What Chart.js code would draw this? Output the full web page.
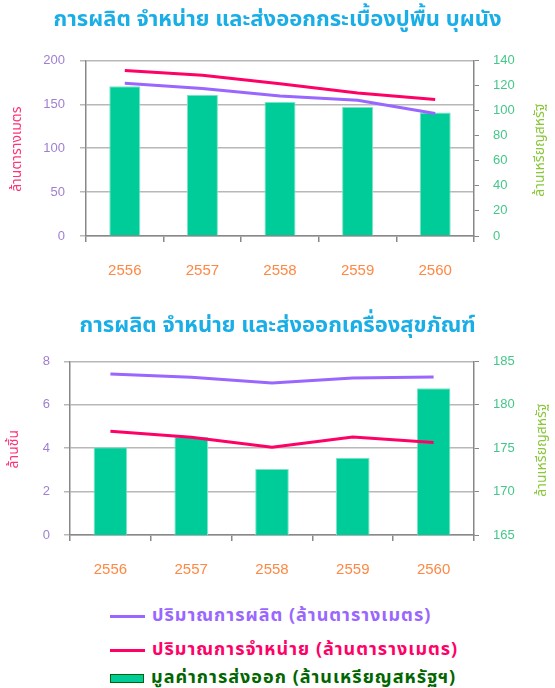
<!DOCTYPE html>
<html>
<head>
<meta charset="utf-8">
<script src="https://cdn.jsdelivr.net/npm/chart.js@4.4.1/dist/chart.umd.min.js"></script>
<style>
  body { margin: 0; width: 555px; height: 688px; background: #fff; overflow: hidden; position: relative;
         font-family: "Noto Sans Thai", Tahoma, "Noto Sans", sans-serif; }
  #box1 { position: absolute; left: 0; top: 0; }
  #box2 { position: absolute; left: 0; top: 290px; }
  .legend { position: absolute; left: 110px; font-weight: bold; font-size: 18px; line-height: 20px; letter-spacing: 1px; white-space: nowrap; }
  .legend .sw { display: inline-block; vertical-align: middle; margin-right: 7px; }
  .legend .ln { width: 35px; height: 3px; }
  .legend .bx { width: 32px; height: 7px; background: #00cc99; border: 1px solid #006600; }
</style>
</head>
<body>
<canvas id="tileChart" width="555" height="290"></canvas>
<canvas id="sanChart" width="555" height="300"></canvas>
<div class="legend" style="top:606px;color:#9966ff"><span class="sw ln" style="background:#9966ff"></span>ปริมาณการผลิต (ล้านตารางเมตร)</div>
<div class="legend" style="top:640px;color:#ff0066"><span class="sw ln" style="background:#ff0066"></span>ปริมาณการจำหน่าย (ล้านตารางเมตร)</div>
<div class="legend" style="top:668px;color:#006600"><span class="sw bx"></span>มูลค่าการส่งออก (ล้านเหรียญสหรัฐฯ)</div>
<script>
// ข้อมูล
const years = ['2556', '2557', '2558', '2559', '2560'];

// กระเบื้องปูพื้น บุผนัง
const tileProduction = [174, 168, 159.5, 154.5, 139.5]; // ล้านตารางเมตร
const tileSales = [188.5, 183, 173.5, 163, 155.5];      // ล้านตารางเมตร
const tileExport = [119.3, 112.7, 106.8, 102.9, 98.4];   // ล้านเหรียญสหรัฐ
const tileLeftTicks = [0, 50, 100, 150, 200];
const tileRightTicks = [0, 20, 40, 60, 80, 100, 120, 140];

// เครื่องสุขภัณฑ์
const sanProduction = [7.42, 7.27, 7.0, 7.23, 7.28]; // ล้านชิ้น
const sanSales = [4.78, 4.5, 4.05, 4.52, 4.26];      // ล้านชิ้น
const sanExport = [175.1, 176.3, 172.6, 173.9, 181.9]; // ล้านเหรียญสหรัฐ
const sanLeftTicks = [0, 2, 4, 6, 8];
const sanRightTicks = [165, 170, 175, 180, 185];

const thaiFont = '"Noto Sans Thai", Tahoma, "Noto Sans", sans-serif';
Chart.defaults.font.family = '"Liberation Sans", Arial, sans-serif';

// axis titles read bottom-to-top on both sides
const axisTitles = {
    id: 'axisTitles',
    afterDraw(chart, args, opts) {
        const ctx = chart.ctx;
        const area = chart.chartArea;
        opts.items.forEach(t => {
            ctx.save();
            ctx.translate(t.x, (area.top + area.bottom) / 2 + t.dy);
            ctx.rotate(-Math.PI / 2);
            ctx.font = '14px ' + thaiFont;
            ctx.fillStyle = t.color;
            ctx.textAlign = 'center';
            ctx.textBaseline = 'middle';
            ctx.fillText(t.text, 0, 0);
            ctx.restore();
        });
    }
};

function makeChart(id, cfg) {
    const step = cfg.leftTicks[1] - cfg.leftTicks[0];
    const rstep = cfg.rightTicks[1] - cfg.rightTicks[0];
    return new Chart(document.getElementById(id), {
        data: {
            labels: years,
            datasets: [
                { type: 'line', label: 'ปริมาณการผลิต', data: cfg.production, yAxisID: 'y',
                  borderColor: '#9966ff', borderWidth: 3, pointRadius: 0, tension: 0, order: 1 },
                { type: 'line', label: 'ปริมาณการจำหน่าย', data: cfg.sales, yAxisID: 'y',
                  borderColor: '#ff0066', borderWidth: 3, pointRadius: 0, tension: 0, order: 2 },
                { type: 'bar', label: 'มูลค่าการส่งออก', data: cfg.exportValue, yAxisID: 'y1',
                  backgroundColor: '#00cc99', borderColor: '#7fe3c7', borderWidth: 1,
                  barPercentage: 0.8, categoryPercentage: cfg.barPct, order: 3 }
            ]
        },
        options: {
            responsive: false,
            animation: false,
            layout: { padding: 0 },
            plugins: {
                legend: { display: false },
                tooltip: { enabled: false },
                title: {
                    display: true,
                    text: cfg.title,
                    color: '#1aaee6',
                    font: { family: thaiFont, size: 22, weight: 'bold' },
                    padding: cfg.titlePad
                },
                axisTitles: { items: cfg.axisTitles }
            },
            scales: {
                x: {
                    offset: true,
                    grid: { offset: true, drawOnChartArea: false, tickLength: 6, color: '#888', lineWidth: 1.5 },
                    border: { color: '#888', width: 1.5 },
                    ticks: { color: '#ff8844', font: { size: 15 }, padding: 20 },
                    afterFit(scale) { scale.height = cfg.xHeight; }
                },
                y: {
                    position: 'left',
                    min: cfg.leftTicks[0],
                    max: cfg.leftTicks[cfg.leftTicks.length - 1],
                    ticks: { stepSize: step, color: '#9f7fd0', font: { size: 13 }, padding: cfg.leftPad },
                    grid: { color: '#b8b8b8', lineWidth: 1.5, tickLength: 6 },
                    border: { color: '#888', width: 1.5 },
                    afterFit(scale) { scale.width = cfg.leftWidth; }
                },
                y1: {
                    position: 'right',
                    min: cfg.rightTicks[0],
                    max: cfg.rightTicks[cfg.rightTicks.length - 1],
                    ticks: { stepSize: rstep, color: '#44c78a', font: { size: 13 }, padding: 14 },
                    grid: { drawOnChartArea: false, tickLength: 5, color: '#888' },
                    border: { color: '#888', width: 1.5 },
                    afterFit(scale) { scale.width = 81; }
                }
            }
        },
        plugins: [axisTitles]
    });
}

makeChart('tileChart', {
    title: 'การผลิต จำหน่าย และส่งออกกระเบื้องปูพื้น บุผนัง',
    titlePad: { top: 8, bottom: 26 },
    production: tileProduction, sales: tileSales, exportValue: tileExport,
    leftTicks: tileLeftTicks, rightTicks: tileRightTicks,
    barPct: 0.5, xHeight: 54, leftWidth: 86, leftPad: 15,
    axisTitles: [
        { text: 'ล้านตารางเมตร', x: 18, dy: 1, color: '#ff3377' },
        { text: 'ล้านเหรียญสหรัฐ', x: 541, dy: 2, color: '#8cc63f' }
    ]
});

makeChart('sanChart', {
    title: 'การผลิต จำหน่าย และส่งออกเครื่องสุขภัณฑ์',
    titlePad: { top: 24, bottom: 21 },
    production: sanProduction, sales: sanSales, exportValue: sanExport,
    leftTicks: sanLeftTicks, rightTicks: sanRightTicks,
    barPct: 0.52, xHeight: 55, leftWidth: 70, leftPad: 14,
    axisTitles: [
        { text: 'ล้านชิ้น', x: 15, dy: 1, color: '#ff3377' },
        { text: 'ล้านเหรียญสหรัฐ', x: 543, dy: 2, color: '#8cc63f' }
    ]
});
</script>
</body>
</html>
